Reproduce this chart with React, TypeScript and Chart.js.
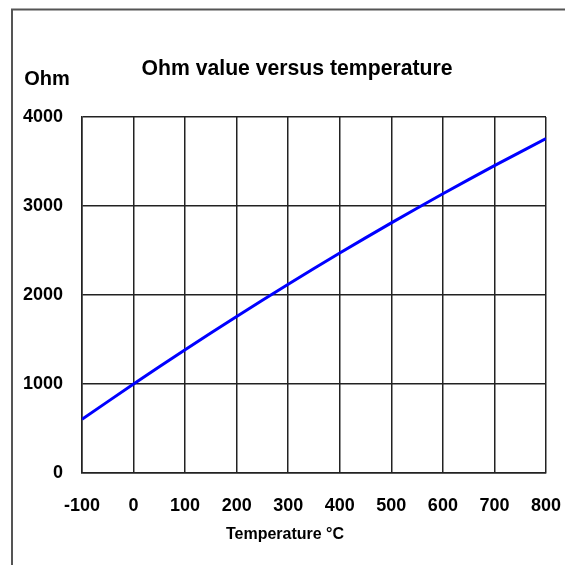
import React, { useEffect, useRef } from "react";
import { Chart, registerables } from "chart.js";

Chart.register(...registerables);

const temperatures = [-100, 0, 100, 200, 300, 400, 500, 600, 700, 800];
const ohmValues = [603, 1000, 1385, 1759, 2121, 2471, 2810, 3137, 3453, 3757];
const titleText = "Ohm value versus temperature";
const yUnitText = "Ohm";
const xAxisText = "Temperature °C";

const FONT = "'Liberation Sans', Arial, sans-serif";

const decorPlugin = {
  id: "decor",
  afterDraw(chart: any) {
    const ctx = chart.ctx as CanvasRenderingContext2D;
    ctx.save();
    ctx.strokeStyle = "#555";
    ctx.lineWidth = 2;
    ctx.beginPath();
    ctx.moveTo(12, 565);
    ctx.lineTo(12, 9.5);
    ctx.lineTo(565, 9.5);
    ctx.stroke();
    ctx.fillStyle = "#000";
    ctx.textAlign = "center";
    ctx.textBaseline = "middle";
    ctx.font = `bold 22px ${FONT}`;
    ctx.fillText(titleText, 297, 69, 311);
    ctx.font = `bold 20px ${FONT}`;
    ctx.fillText(yUnitText, 47, 79, 50);
    ctx.font = `bold 16px ${FONT}`;
    ctx.fillText(xAxisText, 285, 535, 134);
    ctx.restore();
  },
};

export default function App() {
  const ref = useRef<HTMLCanvasElement | null>(null);
  useEffect(() => {
    if (!ref.current) return;
    const chart = new Chart(ref.current, {
      type: "line",
      data: {
        datasets: [
          {
            data: temperatures.map((t, i) => ({ x: t, y: ohmValues[i] })),
            borderColor: "#0000ff",
            borderWidth: 3,
            pointRadius: 0,
            tension: 0.3,
            fill: false,
          },
        ],
      },
      options: {
        responsive: false,
        animation: false,
        devicePixelRatio: 1,
        layout: { padding: { left: 0, right: 19, top: 117, bottom: 0 } },
        plugins: { legend: { display: false }, title: { display: false }, tooltip: { enabled: false } },
        scales: {
          x: {
            type: "linear",
            min: -100,
            max: 800,
            afterFit: (s: any) => {
              s.height = 92;
              s.paddingLeft = 0;
              s.paddingRight = 0;
            },
            ticks: {
              stepSize: 100,
              color: "#000",
              padding: 22,
              callback: (v: any) => String(v),
              font: { family: FONT, size: 18, weight: "bold" },
            },
            grid: { color: "#222", lineWidth: 1.5, drawTicks: false },
            border: { color: "#222", width: 1.5 },
          },
          y: {
            min: 0,
            max: 4000,
            afterFit: (s: any) => {
              s.width = 82;
              s.paddingTop = 0;
              s.paddingBottom = 0;
            },
            ticks: {
              stepSize: 1000,
              color: "#000",
              padding: 19,
              callback: (v: any) => String(v),
              font: { family: FONT, size: 18, weight: "bold" },
            },
            grid: { color: "#222", lineWidth: 1.5, drawTicks: false },
            border: { color: "#222", width: 1.5 },
          },
        },
      },
      plugins: [decorPlugin],
    });
    return () => chart.destroy();
  }, []);
  return (
    <div style={{ position: "fixed", left: 0, top: 0, width: 565, height: 565, background: "#fff" }}>
      <canvas ref={ref} width={565} height={565} style={{ display: "block" }} />
    </div>
  );
}
